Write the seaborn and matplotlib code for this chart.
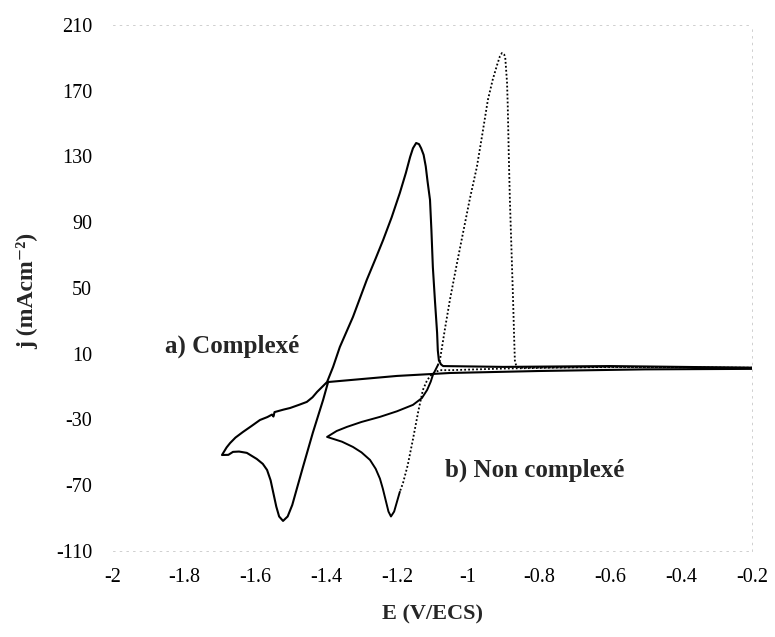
import numpy as np
import pandas as pd
import matplotlib
matplotlib.use("Agg")
import matplotlib.pyplot as plt
import seaborn as sns

# a) complexed bath, one full cycle (scan order, starting at -0.2 V going negative)
a_E = [-0.2, -0.5, -0.8, -1.05, -1.2, -1.394,
       -1.408, -1.437, -1.465, -1.482, -1.495, -1.508, -1.521, -1.532, -1.540, -1.548,
       -1.556, -1.566, -1.578, -1.595, -1.623, -1.645, -1.662, -1.675, -1.693,
       -1.680, -1.670, -1.655, -1.634, -1.610, -1.586, -1.565, -1.552, -1.548, -1.545,
       -1.520, -1.501, -1.475, -1.454, -1.438, -1.425, -1.410, -1.397,
       -1.380, -1.361, -1.324, -1.285, -1.260, -1.239, -1.215, -1.192, -1.175, -1.163,
       -1.155, -1.146, -1.138, -1.132, -1.125, -1.119, -1.114, -1.107, -1.103, -1.099,
       -1.093, -1.087, -1.085, -1.082, -1.076, -1.070, -0.9, -0.6, -0.4, -0.2]
a_j = [0.8, 0.5, -0.5, -1.7, -3.5, -7.2,
       -18, -38, -59, -72, -82, -89, -91.7, -89, -83, -75,
       -67, -60.7, -57, -54, -50.3, -49.5, -49.7, -51.5, -51.6,
       -47, -44.3, -41, -37.6, -34, -30.3, -28.5, -27.0, -28.2, -25.5,
       -24, -23, -21, -19.3, -16.5, -13.2, -10, -7.2,
       2, 14.1, 32.4, 55, 68, 79.2, 93, 107.8, 120, 129.7,
       135, 138.2, 137.5, 135, 131, 124, 115, 103.6, 85, 62.8,
       42, 22.7, 12, 6, 3.5, 2.5, 2, 2.5, 2, 1.5]

# b) non complexed bath: dotted descent, solid loop, dotted stripping peak
b_down_E = [-0.2, -0.6, -0.9, -1.05, -1.08, -1.1, -1.115, -1.127, -1.14, -1.155, -1.17,
            -1.183, -1.192]
b_down_j = [1.5, 2, 1, 0, 0, -2, -6, -12, -25, -42, -58, -68.6, -74]

b_loop_E = [-1.192, -1.200, -1.208, -1.217, -1.224, -1.232, -1.240, -1.248, -1.260,
            -1.276, -1.300, -1.324, -1.355, -1.397,
            -1.370, -1.341, -1.300, -1.248, -1.200, -1.155, -1.130, -1.115, -1.105,
            -1.099, -1.085]
b_loop_j = [-74, -80, -86, -89, -86, -79, -72, -66, -60,
            -54.6, -50, -46.7, -43.5, -40.6,
            -37, -34.5, -31.5, -28.4, -25, -21.1, -17, -12, -7,
            -3, 3]

b_up_E = [-1.085, -1.079, -1.065, -1.051, -1.032, -1.014, -0.995, -0.975, -0.960,
          -0.944, -0.930, -0.918, -0.910, -0.904, -0.898, -0.895, -0.890, -0.888,
          -0.885, -0.882, -0.877, -0.873, -0.870, -0.868, -0.864, -0.855, -0.5, -0.2]
b_up_j = [3, 6.2, 25, 42.7, 64, 83.5, 104, 123.6, 143,
          164.4, 177, 185.7, 191, 193, 192, 190, 175, 161,
          130, 103.6, 70, 42.7, 20, 6, 2.5, 1.5, 2, 1.5]

x_ticks = [-2, -1.8, -1.6, -1.4, -1.2, -1, -0.8, -0.6, -0.4, -0.2]
y_ticks = [-110, -70, -30, 10, 50, 90, 130, 170, 210]

sns.set_theme(style="white")
plt.rcParams['font.family'] = ['Liberation Serif', 'DejaVu Serif']
plt.rcParams['axes.unicode_minus'] = False

fig = plt.figure(figsize=(7.75, 6.37), dpi=100)
ax = fig.add_axes([0.1458, 0.135, 0.8245, 0.8258])

dotted = (0, (1.0, 1.2))
sns.lineplot(x=b_down_E, y=b_down_j, sort=False, estimator=None, color='black',
             lw=1.3, linestyle=dotted, ax=ax)
sns.lineplot(x=b_loop_E, y=b_loop_j, sort=False, estimator=None, color='black',
             lw=1.4, ax=ax)
sns.lineplot(x=b_up_E, y=b_up_j, sort=False, estimator=None, color='black',
             lw=1.3, linestyle=dotted, ax=ax)
sns.lineplot(x=a_E, y=a_j, sort=False, estimator=None, color='black', lw=1.5, ax=ax)

ax.set_xlim(-2, -0.2)
ax.set_ylim(-110, 210)
ax.set_xticks(x_ticks)
ax.set_xticklabels([f"{t:g}" for t in x_ticks])
ax.set_yticks(y_ticks)
ax.tick_params(axis='both', labelsize=14.5, colors='#bbbbbb', labelcolor='black')
ax.tick_params(axis='x', length=0, pad=12)
ax.tick_params(axis='y', length=4, width=0.6, direction='out', pad=11)

for side in ['top', 'bottom', 'right', 'left']:
    ax.spines[side].set_color('#c8c8c8')
    ax.spines[side].set_linewidth(0.6)
    ax.spines[side].set_linestyle((0, (2, 6)))
ax.spines['left'].set_visible(False)

ax.set_xlabel("E (V/ECS)", fontsize=16, fontweight='bold', labelpad=13)
ax.set_ylabel("j (mAcm⁻²)", fontsize=17, fontweight='bold')
ax.yaxis.set_label_coords(-0.117, 0.494)

ax.text(-1.854, 14.7, "a) Complexé", fontsize=18, fontweight='bold', va='center', ha='left')
ax.text(-1.065, -61, "b) Non complexé", fontsize=18, fontweight='bold', va='center', ha='left')

fig.savefig("out.png", dpi=100)
